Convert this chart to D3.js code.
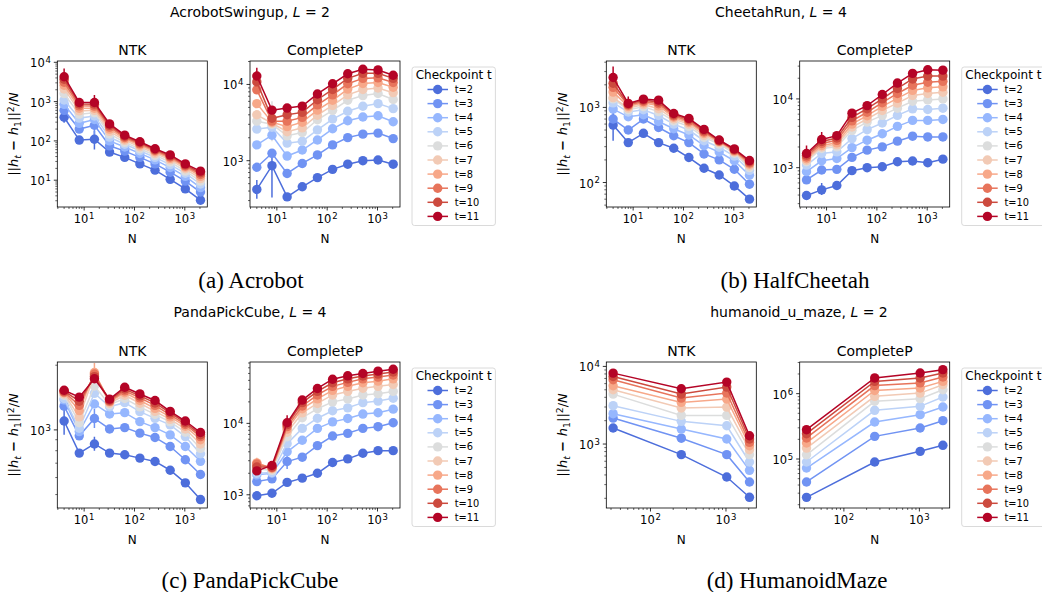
<!DOCTYPE html>
<html><head><meta charset="utf-8">
<script src="https://cdn.jsdelivr.net/npm/d3@7"></script>
<style>body{margin:0;background:#fff} text{font-family:"DejaVu Sans",sans-serif}</style>
</head><body><svg id="c" width="1042" height="592"></svg>
<script>
// ---------------- DATA ----------------
const checkpoints = ["t=2","t=3","t=4","t=5","t=6","t=7","t=8","t=9","t=10","t=11"];
const N_full = [4,8,16,32,64,128,256,512,1024,2048];
const N_maze = [32,256,1024,2048];
const suptitles = [["AcrobotSwingup", "2"], ["CheetahRun", "4"], ["PandaPickCube", "4"], ["humanoid_u_maze", "2"]];
const captions = ["(a) Acrobot", "(b) HalfCheetah", "(c) PandaPickCube", "(d) HumanoidMaze"];
const panelTitles = ["NTK", "CompleteP"];

const acrobotNTK = [
  [400, 105, 110, 52, 38, 26, 18, 10.5, 6, 3.1],
  [600, 200, 250, 75, 55, 38, 26, 16, 9.5, 5],
  [850, 280, 350, 100, 70, 48, 33, 21, 12.5, 6.5],
  [1100, 380, 430, 125, 82, 56, 38, 25, 15, 8],
  [1600, 480, 520, 150, 92, 63, 43, 29, 17, 9.5],
  [2100, 580, 600, 175, 103, 71, 48, 33, 19.5, 11],
  [2600, 680, 680, 200, 113, 78, 53, 36, 21.5, 12.5],
  [3100, 780, 770, 225, 122, 84, 57, 39, 23, 14],
  [3700, 870, 860, 248, 131, 90, 60, 41.5, 24.5, 15.5],
  [4300, 950, 950, 270, 140, 95, 63, 44, 26, 17]
];
const acrobotCP = [
  [420, 860, 335, 455, 600, 770, 900, 1000, 1020, 900],
  [820, 1250, 680, 920, 1190, 1610, 2010, 2230, 2300, 1950],
  [1610, 2160, 1150, 1380, 1870, 2620, 3340, 3740, 3890, 3240],
  [2600, 2750, 1700, 1800, 2540, 3520, 4450, 5180, 5610, 4820],
  [3300, 3000, 2120, 2340, 3440, 4580, 6200, 7150, 7600, 6350],
  [4000, 3100, 2400, 2700, 3950, 5300, 7300, 8600, 9000, 7800],
  [5600, 3200, 2800, 3200, 4600, 6200, 8700, 10300, 10600, 9200],
  [8500, 3300, 3300, 3700, 5400, 7300, 10200, 12000, 12200, 10600],
  [10800, 3600, 4000, 4300, 6300, 8600, 12000, 14000, 14000, 12000],
  [12900, 4600, 4900, 5200, 7500, 10200, 13800, 15800, 15500, 13200]
];
const cheetahNTK = [
  [582, 340, 452, 340, 286, 215, 155, 126, 90, 60],
  [700, 500, 700, 540, 420, 340, 240, 200, 150, 95],
  [950, 750, 800, 650, 520, 430, 310, 255, 195, 125],
  [1150, 870, 930, 780, 600, 500, 360, 295, 225, 145],
  [1300, 930, 1020, 880, 660, 560, 400, 325, 245, 158],
  [1350, 980, 1090, 960, 700, 600, 425, 340, 255, 167],
  [1600, 1030, 1150, 1050, 740, 630, 450, 350, 262, 175],
  [1850, 1070, 1200, 1120, 770, 660, 470, 355, 268, 182],
  [2100, 1100, 1250, 1180, 800, 690, 490, 362, 274, 189],
  [2500, 1130, 1290, 1250, 830, 715, 510, 368, 280, 196]
];
const cheetahCP = [
  [394, 476, 550, 905, 1000, 1030, 1220, 1250, 1180, 1330],
  [664, 925, 946, 1410, 1800, 2010, 2430, 2870, 2800, 2800],
  [875, 1260, 1360, 1960, 2510, 3120, 3990, 4870, 4870, 5030],
  [1090, 1610, 1700, 2650, 3570, 4460, 5760, 7180, 7020, 7330],
  [1220, 1900, 2010, 3490, 4600, 5760, 7330, 9250, 9680, 10000],
  [1280, 2000, 2150, 3900, 5100, 6800, 8700, 11200, 12000, 12500],
  [1350, 2100, 2300, 4300, 5700, 7800, 10200, 13300, 14500, 15000],
  [1430, 2250, 2500, 4800, 6400, 8800, 12000, 15800, 17500, 18000],
  [1520, 2400, 2700, 5400, 7200, 10000, 14200, 19500, 21500, 21500],
  [1610, 2570, 2920, 6200, 8000, 11600, 17000, 23500, 26500, 26200]
];
const pandaNTK = [
  [1100, 780, 860, 780, 766, 739, 713, 649, 567, 474],
  [1290, 938, 1130, 1010, 1025, 966, 922, 837, 726, 620],
  [1380, 982, 1320, 1186, 1203, 1093, 1025, 948, 837, 714],
  [1400, 1018, 1480, 1282, 1339, 1216, 1132, 1055, 931, 774],
  [1450, 1080, 1600, 1310, 1400, 1280, 1180, 1090, 975, 820],
  [1470, 1150, 1800, 1330, 1450, 1330, 1220, 1120, 1010, 860],
  [1490, 1230, 1850, 1350, 1490, 1370, 1260, 1150, 1040, 900],
  [1500, 1300, 1820, 1360, 1520, 1410, 1300, 1175, 1060, 930],
  [1515, 1360, 1770, 1375, 1550, 1440, 1335, 1200, 1080, 950],
  [1530, 1420, 1730, 1390, 1580, 1470, 1370, 1220, 1100, 972]
];
const pandaCP = [
  [968, 1050, 1490, 1710, 2000, 2830, 3180, 3810, 4150, 4150],
  [1530, 1670, 2920, 3360, 4880, 6650, 7250, 8510, 8980, 10200],
  [1900, 2000, 4000, 5800, 8500, 10500, 11700, 13500, 14100, 15800],
  [2000, 2050, 5200, 8500, 11800, 15000, 16500, 19500, 20500, 22500],
  [2300, 2200, 6500, 12000, 16000, 20000, 22000, 25000, 26000, 28000],
  [2600, 2300, 7500, 14000, 19000, 25000, 28000, 31000, 33000, 35000],
  [2800, 2350, 8300, 16000, 22000, 29000, 33000, 37000, 39000, 42000],
  [2700, 2400, 9000, 17500, 25000, 33000, 37500, 42000, 44500, 47500],
  [2450, 2450, 9600, 19500, 28000, 37000, 42000, 46000, 49000, 52500],
  [2160, 2570, 10200, 21200, 30800, 41500, 46300, 49900, 53800, 57300]
];
const mazeNTK = [
  [1610, 730, 376, 206],
  [2160, 1190, 730, 324],
  [2460, 1560, 1160, 458],
  [3120, 1960, 1720, 587],
  [4400, 2340, 2340, 730],
  [5010, 2910, 2990, 846],
  [5640, 3440, 3800, 952],
  [6730, 3910, 4540, 1050],
  [7430, 4400, 5420, 1160],
  [8200, 5150, 6280, 1280]
];
const mazeCP = [
  [25900, 90000, 131000, 162000],
  [44500, 222000, 298000, 386000],
  [72800, 368000, 477000, 625000],
  [90000, 556000, 640000, 889000],
  [116000, 764000, 838000, 1150000],
  [147000, 910000, 1020000, 1370000],
  [176000, 1120000, 1220000, 1540000],
  [210000, 1330000, 1460000, 1800000],
  [244000, 1540000, 1740000, 2070000],
  [281000, 1740000, 2070000, 2330000]
];
// error bars: [panel, series, point, low, high]
const errorBars = [
  [0, 9, 0, 3300, 7000], [0, 0, 0, 290, 520], [0, 9, 2, 600, 1480], [0, 0, 2, 60, 180], [0, 1, 2, 110, 330],
  [1, 9, 0, 10000, 16600], [1, 0, 0, 316, 560], [1, 0, 1, 330, 1400], [1, 4, 1, 1800, 6000],
  [2, 9, 0, 2000, 3500], [2, 0, 0, 360, 900], [2, 9, 1, 1000, 1400],
  [3, 9, 0, 1300, 2100], [3, 9, 1, 2100, 3300], [3, 0, 1, 400, 600],
  [4, 0, 0, 950, 1300], [4, 6, 2, 1650, 2050], [4, 0, 2, 800, 930], [4, 1, 2, 1020, 1250],
  [5, 9, 2, 8500, 13000], [5, 1, 2, 2300, 3700], [5, 0, 0, 850, 1100], [5, 6, 0, 2300, 3300],
  [6, 0, 0, 1450, 1750]
];

// ---------------- LAYOUT ----------------
const colors = ["#4d6edb","#7093f3","#96b7fe","#bcd2f7","#dcdddd","#f2cab5","#f7a889","#e7745b","#cc4a3e","#b40426"];
const W = 150, H = 146;
const colLeft = [57.3, 250, 606.3, 799.7];
const rowTop = [61, 362];
const panels = [
  {data: acrobotNTK, N: N_full, title: 0, yDomain: [2.08, 10790], col: 0, row: 0},
  {data: acrobotCP,  N: N_full, title: 1, yDomain: [247, 20300],  col: 1, row: 0},
  {data: cheetahNTK, N: N_full, title: 0, yDomain: [47.2, 4150],  col: 2, row: 0},
  {data: cheetahCP,  N: N_full, title: 1, yDomain: [268, 35600],  col: 3, row: 0},
  {data: pandaNTK,   N: N_full, title: 0, yDomain: [433, 2070],   col: 0, row: 1},
  {data: pandaCP,    N: N_full, title: 1, yDomain: [653, 72300],  col: 1, row: 1},
  {data: mazeNTK,    N: N_maze, title: 0, yDomain: [150, 11400],  col: 2, row: 1},
  {data: mazeCP,     N: N_maze, title: 1, yDomain: [17800, 3.05e6], col: 3, row: 1}
];

const svg = d3.select("#c");

function supText(sel, base, exp) {
  sel.text(null);
  sel.append("tspan").text(base);
  sel.append("tspan").attr("dx", "0.08em").attr("dy", "-0.48em").attr("font-size", "0.74em").text(exp);
}

function minorTicks(domain) {
  const lo = Math.floor(Math.log10(domain[0])), hi = Math.ceil(Math.log10(domain[1]));
  const out = [], major = [];
  for (let k = lo; k <= hi; k++) {
    const v = Math.pow(10, k);
    if (v >= domain[0] && v <= domain[1]) major.push(k);
    for (let m = 2; m <= 9; m++) {
      const w = m * v;
      if (w >= domain[0] && w <= domain[1]) out.push(w);
    }
  }
  return {major, minor: out};
}

panels.forEach((p, pi) => {
  const g = svg.append("g").attr("transform", `translate(${colLeft[p.col]},${rowTop[p.row]})`);
  const lx = d3.extent(p.N).map(Math.log10), r = lx[1] - lx[0];
  const x = d3.scaleLog().domain([Math.pow(10, lx[0] - 0.05 * r), Math.pow(10, lx[1] + 0.05 * r)]).range([0, W]);
  const y = d3.scaleLog().domain(p.yDomain).range([H, 0]);

  const clipId = "clip" + pi;
  g.append("clipPath").attr("id", clipId).append("rect").attr("width", W).attr("height", H);
  const plot = g.append("g").attr("clip-path", `url(#${clipId})`);

  errorBars.filter(e => e[0] === pi).forEach(e => {
    plot.append("line")
      .attr("x1", x(p.N[e[2]])).attr("x2", x(p.N[e[2]]))
      .attr("y1", y(e[3])).attr("y2", y(e[4]))
      .attr("stroke", colors[e[1]]).attr("stroke-width", 1.5);
  });

  const line = d3.line().x((d, i) => x(p.N[i])).y(d => y(d));
  p.data.forEach((s, si) => {
    plot.append("path").attr("d", line(s)).attr("fill", "none")
      .attr("stroke", colors[si]).attr("stroke-width", 1.5);
    plot.selectAll(null).data(s).enter().append("circle")
      .attr("cx", (d, i) => x(p.N[i])).attr("cy", d => y(d)).attr("r", 4.7)
      .attr("fill", colors[si]);
  });

  const xt = minorTicks(x.domain());
  const xg = g.append("g").attr("transform", `translate(0,${H})`);
  xt.minor.forEach(v => xg.append("line").attr("x1", x(v)).attr("x2", x(v)).attr("y1", 0).attr("y2", 2).attr("stroke", "#000").attr("stroke-width", 0.6));
  xt.major.forEach(k => {
    const xv = x(Math.pow(10, k));
    xg.append("line").attr("x1", xv).attr("x2", xv).attr("y1", 0).attr("y2", 3.5).attr("stroke", "#000").attr("stroke-width", 0.8);
    xg.append("text").attr("x", xv).attr("y", 16).attr("text-anchor", "middle").attr("font-size", 11.5).call(supText, "10", k);
  });
  const yt = minorTicks(y.domain());
  const yg = g.append("g");
  yt.minor.forEach(v => yg.append("line").attr("x1", -2).attr("x2", 0).attr("y1", y(v)).attr("y2", y(v)).attr("stroke", "#000").attr("stroke-width", 0.6));
  yt.major.forEach(k => {
    const yv = y(Math.pow(10, k));
    yg.append("line").attr("x1", -3.5).attr("x2", 0).attr("y1", yv).attr("y2", yv).attr("stroke", "#000").attr("stroke-width", 0.8);
    yg.append("text").attr("x", -6.5).attr("y", yv + 5).attr("text-anchor", "end").attr("font-size", 11.5).call(supText, "10", k);
  });

  g.append("rect").attr("width", W).attr("height", H).attr("fill", "none").attr("stroke", "#000").attr("stroke-width", 0.8);
  g.append("text").attr("x", W / 2).attr("y", -6.5).attr("text-anchor", "middle").attr("font-size", 14).text(panelTitles[p.title]);
  g.append("text").attr("x", W / 2).attr("y", H + 36).attr("text-anchor", "middle").attr("font-size", 12).text("N");

  if (p.title === 0) {
    const yl = g.append("text").attr("transform", `translate(-39,${H / 2}) rotate(-90)`).attr("text-anchor", "middle").attr("font-size", 13);
    yl.append("tspan").text("||");
    yl.append("tspan").attr("font-style", "italic").text("h");
    yl.append("tspan").attr("font-style", "italic").attr("font-size", "0.72em").attr("dy", "0.25em").text("t");
    yl.append("tspan").attr("dy", "-0.18em").attr("font-weight", "bold").text(" \u2212 ");
    yl.append("tspan").attr("font-style", "italic").text("h");
    yl.append("tspan").attr("font-size", "0.72em").attr("dy", "0.25em").text("1");
    yl.append("tspan").attr("dy", "-0.18em").text("||");
    yl.append("tspan").attr("font-size", "0.72em").attr("dy", "-0.45em").text("2");
    yl.append("tspan").attr("dy", "0.32em").text("/");
    yl.append("tspan").attr("font-style", "italic").text("N");
  } else {
    const lg = svg.append("g").attr("transform", `translate(${colLeft[p.col] + 162},${rowTop[p.row] + 6})`);
    lg.append("rect").attr("width", 83.4).attr("height", 158.5).attr("rx", 2.5)
      .attr("fill", "#fff").attr("stroke", "#d0d0d0").attr("stroke-width", 0.8);
    lg.append("text").attr("x", 41.7).attr("y", 12).attr("text-anchor", "middle").attr("font-size", 12).text("Checkpoint t");
    checkpoints.forEach((c, i) => {
      const yy = 22.5 + i * 14.1;
      lg.append("line").attr("x1", 15.5).attr("x2", 36).attr("y1", yy).attr("y2", yy).attr("stroke", colors[i]).attr("stroke-width", 1.5);
      lg.append("circle").attr("cx", 25.7).attr("cy", yy).attr("r", 4.7).attr("fill", colors[i]);
      lg.append("text").attr("x", 42.7).attr("y", yy + 3.5).attr("font-size", 9.8).text(c);
    });
  }
});

const supPos = [[250, 17.3], [781, 17.3], [250, 317.3], [799, 317.3]];
suptitles.forEach((s, i) => {
  const t = svg.append("text").attr("x", supPos[i][0]).attr("y", supPos[i][1]).attr("text-anchor", "middle").attr("font-size", 14);
  t.append("tspan").text(s[0] + ", ");
  t.append("tspan").attr("font-style", "italic").text("L");
  t.append("tspan").text(" = " + s[1]);
});
const capPos = [[251, 287.5], [795, 287.5], [250, 588], [797, 588]];
captions.forEach((c, i) => {
  svg.append("text").attr("x", capPos[i][0]).attr("y", capPos[i][1]).attr("text-anchor", "middle")
    .attr("font-size", 23).style("font-family", '"Liberation Serif", serif').text(c);
});
</script></body></html>
